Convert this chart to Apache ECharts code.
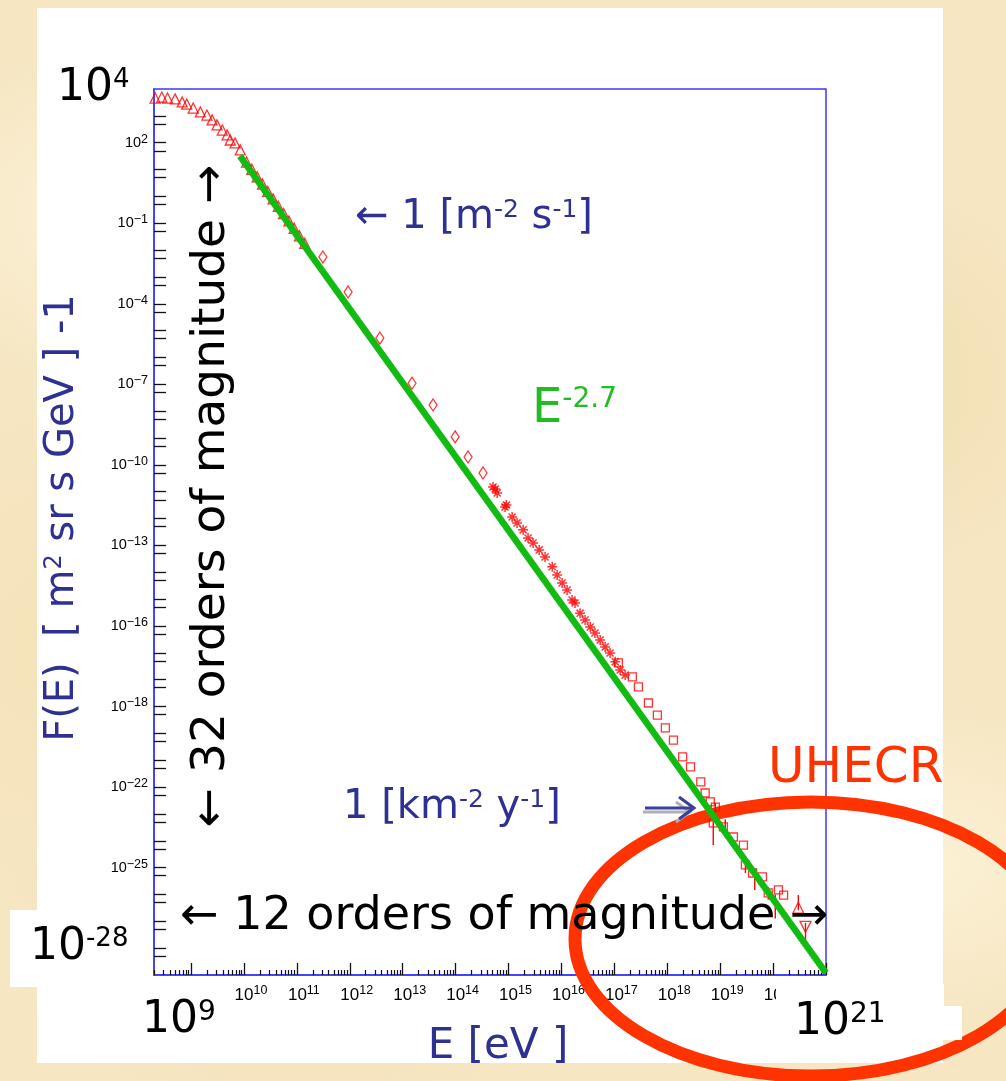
<!DOCTYPE html>
<html>
<head>
<meta charset="utf-8">
<script src="https://cdn.jsdelivr.net/npm/echarts@6/dist/echarts.min.js"></script>
<style>
  html, body { margin: 0; padding: 0; }
  body {
    width: 1006px; height: 1081px; overflow: hidden;
    background-color: #f6e6c2;
    background-image:
      radial-gradient(ellipse 260px 180px at 15% 20%, rgba(255,248,228,0.75), rgba(255,248,228,0)),
      radial-gradient(ellipse 240px 200px at 85% 35%, rgba(238,214,162,0.55), rgba(238,214,162,0)),
      radial-gradient(ellipse 300px 220px at 30% 85%, rgba(242,220,172,0.55), rgba(242,220,172,0)),
      radial-gradient(ellipse 220px 160px at 92% 80%, rgba(255,246,222,0.7), rgba(255,246,222,0)),
      radial-gradient(ellipse 200px 260px at 5% 60%, rgba(244,224,180,0.6), rgba(244,224,180,0));
  }
  #chart { width: 1006px; height: 1081px; }
</style>
</head>
<body>
<div id="chart"></div>
<script>
// ---- axis ranges (log10 of E in eV, log10 of flux) ----
const xMin = 8.3, xMax = 21;
const yMin = -29, yMax = 4;

// ---- tick labels ----
const xLabelDecades = [10, 11, 12, 13, 14, 15, 16, 17, 18, 19, 20, 21];
const yLabelDecades = [2, -1, -4, -7, -10, -13, -16, -19, -22, -25, -28];
const yLabelExps = ['2', '\u22121', '\u22124', '\u22127', '\u221210', '\u221213', '\u221216', '\u221218', '\u221222', '\u221225', '\u221228'];

// ---- low-energy spectrum (open triangles) ----
const lowE = [2.1e8, 2.8e8, 3.6e8, 5.0e8, 6.8e8, 8.3e8, 1.1e9, 1.5e9, 2.0e9, 2.5e9, 3.1e9, 3.9e9, 4.8e9, 5.5e9, 6.8e9, 8.5e9,
              1.12e10, 1.41e10, 1.78e10, 2.24e10, 2.82e10, 3.55e10, 4.47e10, 5.62e10, 7.08e10, 8.91e10, 1.12e11, 1.41e11];
const lowF = [4.6e3, 5.0e3, 4.6e3, 4.3e3, 3.3e3, 2.75e3, 1.95e3, 1.4e3, 1.07e3, 710, 460, 295, 195, 126, 98, 54,
              19, 10.2, 5.4, 2.9, 1.53, 0.81, 0.43, 0.23, 0.122, 0.065, 0.034, 0.018];

// ---- direct measurements (open diamonds) ----
const diamondE = [3.1e11, 9.3e11, 3.7e12, 1.5e13, 3.75e13, 9.8e13, 1.72e14, 3.3e14];
const diamondF = [5.5e-3, 2.75e-4, 5.3e-6, 1.1e-7, 1.7e-8, 1.1e-9, 1.97e-10, 5.0e-11];

// ---- air-shower data around the knee (asterisks) ----
const starE = [5.1e14, 5.6e14, 6.1e14, 8.6e14, 9.1e14, 1.17e15, 1.45e15, 1.89e15, 2.34e15, 2.91e15, 3.8e15, 4.9e15, 6.7e15, 8.3e15,
               1.03e16, 1.28e16, 1.59e16, 1.81e16, 2.25e16, 2.8e16, 3.5e16, 4.3e16, 5.4e16, 6.7e16, 8.3e16, 1.04e17, 1.29e17, 1.6e17];
const starF = [1.5e-11, 1.26e-11, 9.0e-12, 2.7e-12, 3.2e-12, 1.15e-12, 6.9e-13, 3.8e-13, 1.9e-13, 1.23e-13, 6.8e-14, 3.7e-14, 1.6e-14, 7.9e-15,
               4.0e-15, 2.2e-15, 9.3e-16, 7.2e-16, 3.0e-16, 1.66e-16, 9.1e-17, 5.5e-17, 3.0e-17, 1.66e-17, 9.8e-18, 4.6e-18, 2.3e-18, 1.48e-18];

// ---- highest-energy data (open squares) ----
const squareE = [1.19e17, 2.19e17, 2.85e17, 4.4e17, 6.5e17, 9.2e17, 1.31e18, 1.95e18, 2.75e18, 4.3e18, 5.2e18, 6.5e18, 8.1e18, 7.4e18,
                 1.15e19, 1.78e19, 2.75e19, 3.0e19, 4.1e19, 6.3e19, 8.1e19, 1.26e20, 1.58e20];
const squareF = [4.2e-18, 1.26e-18, 5.4e-19, 1.35e-19, 4.8e-20, 1.6e-20, 5.6e-21, 1.32e-21, 5.6e-22, 1.55e-22, 6.0e-23, 2.8e-23, 1.78e-23, 4.6e-24,
                 3.3e-24, 1.38e-24, 6.9e-25, 1.26e-25, 6.3e-26, 4.5e-26, 1.15e-26, 1.48e-26, 9.5e-27];

// ---- end points (up / down triangles) ----
const tailUpE = [3.0e20];
const tailUpF = [3.2e-27];
const tailDownE = [4.1e20];
const tailDownF = [6.2e-28];

// ---- vertical error bars ----
const errE  = [8.1e18, 7.4e18, 1.25e19, 3.0e19, 4.5e19, 8.1e19, 1.1e20, 3.0e20, 4.1e20];
const errLo = [1.07e-23, 6.9e-25, 1.6e-24, 6.3e-26, 1.48e-26, 6.3e-27, 1.26e-27, 2.6e-27, 1.1e-28];
const errHi = [2.5e-23, 7.8e-24, 6.3e-24, 1.95e-25, 6.9e-26, 1.9e-26, 1.0e-26, 9.5e-27, 8.7e-28];

// ---- E^-2.7 power-law fit ----
const fitE = [8.4e9, 1e21];
const fitF = [32, 1.2e-29];
const fit2E = [8.4e9, 8.5e20];
const fit2F = [32, 1.2e-29];

// ---------------------------------------------------------------
const L = Math.log10;
const pts = (E, F) => E.map((e, i) => [L(e), L(F[i])]);

const xMajor = [];
for (let n = 9; n <= 21; n++) xMajor.push(n);
const xMinor = [];
for (let n = 8; n <= 20; n++) {
  for (let k = 2; k <= 9; k++) {
    const v = n + L(k);
    if (v > xMin && v < xMax) xMinor.push(v);
  }
}
const yTicks = [];
for (let d = yMin + 1; d < yMax; d++) {
  yTicks.push(d);
  if (d - L(2) > yMin) yTicks.push(d - L(2));
}

const AXIS_FONT = "'Liberation Sans', Arial, sans-serif";
const DISPLAY_FONT = "'DejaVu Sans', sans-serif";
const BLUE_TEXT = '#2e3192';
const RED = '#ff0000';
const FRAME = '#3838ff';

const asterisk = 'path://M8.5,0 L11.5,0 L11.5,20 L8.5,20 Z M0,8.5 L20,8.5 L20,11.5 L0,11.5 Z ' +
  'M1.9,4 L4,1.9 L18.1,16 L16,18.1 Z M16,1.9 L18.1,4 L4,18.1 L1.9,16 Z';

const openMarker = { color: 'rgba(0,0,0,0)', borderColor: RED, borderWidth: 1.3 };

// rich text helper: base text followed by a raised exponent
function supRich(size, supSize, raise, color, family) {
  return {
    b: { fontSize: size, lineHeight: size, fontFamily: family, fill: color, color: color },
    s: { fontSize: supSize, lineHeight: size - 2 * raise, verticalAlign: 'top', fontFamily: family, fill: color, color: color }
  };
}
function label(x, y, text, rich, opts) {
  return Object.assign({
    type: 'text', x: x, y: y, z: 20,
    style: { text: text, rich: rich, align: 'left', verticalAlign: 'middle' }
  }, opts || {});
}

const chart = echarts.init(document.getElementById('chart'), null, { renderer: 'canvas' });

const option = {
  animation: false,
  backgroundColor: 'transparent',
  grid: {
    left: 154, top: 89, width: 672, height: 886,
    show: true, backgroundColor: '#ffffff', borderColor: FRAME, borderWidth: 1.5,
    containLabel: false, outerBoundsMode: 'none'
  },
  xAxis: [
    {
      type: 'value', min: xMin, max: xMax, position: 'bottom',
      axisLine: { show: true, onZero: false, lineStyle: { color: FRAME, width: 1.5 } },
      axisTick: { show: true, inside: true, length: 12, customValues: xMajor, lineStyle: { color: '#111', width: 1.3 } },
      axisLabel: {
        customValues: xLabelDecades, margin: 9, color: '#000',
        formatter: v => '{b|10}{s|' + Math.round(v) + '}',
        rich: {
          b: { fontSize: 17, lineHeight: 22, fontFamily: AXIS_FONT, color: '#000', padding: [0, 0, 0, 14] },
          s: { fontSize: 12.5, lineHeight: 12, verticalAlign: 'top', fontFamily: AXIS_FONT, color: '#000' }
        }
      },
      splitLine: { show: false }
    },
    {
      type: 'value', min: xMin, max: xMax, position: 'bottom',
      axisLine: { show: false, onZero: false },
      axisTick: { show: true, inside: true, length: 5, customValues: xMinor, lineStyle: { color: '#111', width: 1.2 } },
      axisLabel: { show: false },
      splitLine: { show: false }
    }
  ],
  yAxis: {
    type: 'value', min: yMin, max: yMax, position: 'left',
    axisLine: { show: true, onZero: false, lineStyle: { color: FRAME, width: 1.5 } },
    axisTick: { show: true, inside: true, length: 12, customValues: yTicks, lineStyle: { color: '#111', width: 1.3 } },
    axisLabel: {
      customValues: yLabelDecades, margin: 6, color: '#000',
      formatter: v => {
        const i = yLabelDecades.indexOf(Math.round(v));
        return '{b|10}{s|' + yLabelExps[i] + '}';
      },
      rich: {
        b: { fontSize: 14.5, lineHeight: 20, fontFamily: AXIS_FONT, color: '#000' },
        s: { fontSize: 12.5, lineHeight: 10, verticalAlign: 'top', fontFamily: AXIS_FONT, color: '#000' }
      }
    },
    splitLine: { show: false }
  },
  series: [
    {
      name: 'errors', type: 'custom', z: 2,
      encode: { x: 0, y: [1, 2] },
      data: errE.map((e, i) => [L(e), L(errLo[i]), L(errHi[i])]),
      renderItem: (params, api) => {
        const a = api.coord([api.value(0), api.value(1)]);
        const b = api.coord([api.value(0), api.value(2)]);
        return { type: 'line', shape: { x1: a[0], y1: a[1], x2: b[0], y2: b[1] }, style: { stroke: RED, lineWidth: 1.4 } };
      }
    },
    { name: 'low', type: 'scatter', z: 3, symbol: 'triangle', symbolSize: 10, itemStyle: openMarker, data: pts(lowE, lowF) },
    { name: 'direct', type: 'scatter', z: 3, symbol: 'diamond', symbolSize: [8, 12], itemStyle: openMarker, data: pts(diamondE, diamondF) },
    { name: 'knee', type: 'scatter', z: 3, symbol: asterisk, symbolSize: 10, itemStyle: { color: RED }, data: pts(starE, starF) },
    { name: 'uhe', type: 'scatter', z: 3, symbol: 'rect', symbolSize: 8, itemStyle: openMarker, data: pts(squareE, squareF) },
    { name: 'tailUp', type: 'scatter', z: 3, symbol: 'triangle', symbolSize: 11, itemStyle: openMarker, data: pts(tailUpE, tailUpF) },
    { name: 'tailDown', type: 'scatter', z: 3, symbol: 'triangle', symbolRotate: 180, symbolSize: 11, itemStyle: openMarker, data: pts(tailDownE, tailDownF) },
    {
      name: 'fit2', type: 'line', z: 4, symbol: 'none', xAxisIndex: 0,
      lineStyle: { color: '#6ee36e', width: 1.5, type: 'dotted' },
      data: pts(fit2E, fit2F)
    },
    {
      name: 'fit', type: 'line', z: 5, symbol: 'none', xAxisIndex: 0,
      lineStyle: { color: '#12bb12', width: 6.5 },
      data: pts(fitE, fitF)
    }
  ],
  graphic: {
    elements: [
      // page panel and label patches
      { type: 'rect', z: -100, shape: { x: 37, y: 8, width: 906, height: 1055 }, style: { fill: '#ffffff' } },
      { type: 'rect', z: 8, shape: { x: 10, y: 910, width: 142, height: 77 }, style: { fill: '#ffffff' } },
      { type: 'rect', z: 8, shape: { x: 776, y: 984, width: 168, height: 24 }, style: { fill: '#ffffff' } },
      { type: 'rect', z: 8, shape: { x: 776, y: 1006, width: 186, height: 34 }, style: { fill: '#ffffff' } },

      // UHECR ring
      { type: 'ellipse', z: 1, shape: { cx: 811, cy: 939, rx: 236, ry: 137 },
        style: { fill: 'none', stroke: '#ff3300', lineWidth: 13 } },

      // axis end values
      label(57, 89, '{b|10}{s|4}', supRich(44, 26, 4, '#000', DISPLAY_FONT)),
      label(30, 948, '{b|10}{s|-28}', supRich(44, 26, 5, '#000', DISPLAY_FONT)),
      label(142, 1021, '{b|10}{s|9}', supRich(44, 28, 5, '#000', DISPLAY_FONT)),
      label(794, 1023, '{b|10}{s|21}', supRich(44, 28, 5, '#000', DISPLAY_FONT)),

      // span annotations
      { type: 'text', z: 20, x: 180, y: 917,
        style: { text: '\u2190 12 orders of magnitude \u2192', fontSize: 46, fontFamily: DISPLAY_FONT, fill: '#000', align: 'left', verticalAlign: 'middle' } },
      { type: 'text', z: 20, x: 212, y: 496, rotation: Math.PI / 2,
        style: { text: '\u2190 32 orders of magnitude \u2192', fontSize: 47, fontFamily: DISPLAY_FONT, fill: '#000', align: 'center', verticalAlign: 'middle' } },

      // flux markers
      label(355, 218, '{b|\u2190 1 [m}{s|-2}{b| s}{s|-1}{b|]}', supRich(40, 25, 9, BLUE_TEXT, DISPLAY_FONT)),
      label(343, 808, '{b|1 [km}{s|-2}{b| y}{s|-1}{b|]}', supRich(40, 25, 9, BLUE_TEXT, DISPLAY_FONT)),
      { type: 'polyline', z: 19, shape: { points: [[643, 812], [688, 812]] }, style: { stroke: '#b0b0b8', lineWidth: 3, fill: 'none' } },
      { type: 'polyline', z: 19, shape: { points: [[676, 802], [690, 812], [676, 822]] }, style: { stroke: '#b0b0b8', lineWidth: 3, fill: 'none' } },
      { type: 'polyline', z: 20, shape: { points: [[645, 808], [692, 808]] }, style: { stroke: '#3b3f9c', lineWidth: 3, fill: 'none' } },
      { type: 'polyline', z: 20, shape: { points: [[679, 797], [694, 808], [679, 819]] }, style: { stroke: '#3b3f9c', lineWidth: 3, fill: 'none' } },

      // spectral index
      label(532, 410, '{b|E}{s|-2.7}', supRich(48, 28, 8, '#22bb22', DISPLAY_FONT)),

      // UHECR tag
      { type: 'text', z: 20, x: 768, y: 769,
        style: { text: 'UHECR', fontSize: 50, fontFamily: DISPLAY_FONT, fill: '#ff3300', align: 'left', verticalAlign: 'middle' } },

      // axis titles
      { type: 'text', z: 20, x: 63, y: 518, rotation: Math.PI / 2,
        style: { text: '{b|F(E)  [ m}{s|2}{b| sr s GeV ] -1}', rich: supRich(40, 24, 8, BLUE_TEXT, DISPLAY_FONT), align: 'center', verticalAlign: 'middle' } },
      { type: 'text', z: 20, x: 498, y: 1047,
        style: { text: 'E [eV ]', fontSize: 42, fontFamily: DISPLAY_FONT, fill: BLUE_TEXT, align: 'center', verticalAlign: 'middle' } }
    ]
  }
};

chart.setOption(option);
</script>
</body>
</html>
